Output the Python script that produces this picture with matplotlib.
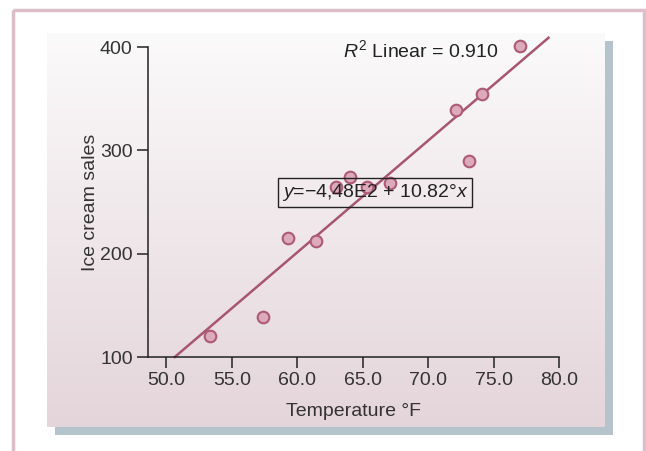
import numpy as np
import matplotlib
matplotlib.use("Agg")
import matplotlib.pyplot as plt
from matplotlib.patches import Rectangle
from matplotlib.colors import LinearSegmentedColormap

plt.rcParams['font.family'] = ['Liberation Sans', 'DejaVu Sans']
plt.rcParams['mathtext.fontset'] = 'custom'
plt.rcParams['mathtext.rm'] = 'Liberation Sans'
plt.rcParams['mathtext.it'] = 'Liberation Sans:italic'

# Data
temperature = [53.3, 57.4, 59.3, 61.4, 63.0, 64.0, 65.3, 67.1, 72.1, 73.1, 74.1, 77.0]
sales = [120, 139, 215, 212, 265, 274, 265, 268, 339, 290, 355, 401]
intercept = -448.0
slope = 10.82
x_ticks = [50, 55, 60, 65, 70, 75, 80]
y_ticks = [100, 200, 300, 400]

W, H = 646, 451
fig = plt.figure(figsize=(W / 100, H / 100), dpi=100)
fig.patch.set_facecolor('white')

def fx(px):
    return px / W

def fy(py):
    return 1 - py / H

# background decoration axes in pixel coordinates (y down)
deco = fig.add_axes([0, 0, 1, 1], zorder=-2)
deco.set_xlim(0, W)
deco.set_ylim(H, 0)
deco.set_axis_off()
deco.add_patch(Rectangle((13, 10), 631, 470, fill=False, edgecolor='#dcbdc9', lw=2.5))
deco.add_patch(Rectangle((55, 41), 558, 394, facecolor='#b5c4cc', edgecolor='none'))

# gradient panel
bg = fig.add_axes([fx(47), fy(427), fx(605) - fx(47), fy(33) - fy(427)], zorder=-1)
cmap = LinearSegmentedColormap.from_list('g', ['#fbfafa', '#e4d5da'])
bg.imshow(np.linspace(0, 1, 256).reshape(-1, 1), aspect='auto', cmap=cmap,
          extent=[0, 1, 0, 1], origin='upper')
bg.set_axis_off()

ax = fig.add_axes([fx(148), fy(357), fx(559) - fx(148), fy(47) - fy(357)], zorder=1)
ax.patch.set_alpha(0)
ax.set_xlim(48.6, 80)
ax.set_ylim(100, 400)
for s in ['top', 'right']:
    ax.spines[s].set_visible(False)
for s in ['left', 'bottom']:
    ax.spines[s].set_color('#222222')
    ax.spines[s].set_linewidth(1.1)
ax.set_xticks(x_ticks)
ax.set_xticklabels([f"{v:.1f}" for v in x_ticks])
ax.set_yticks(y_ticks)
ax.set_yticklabels([str(v) for v in y_ticks])
ax.tick_params(direction='out', length=8, width=1.1, color='#222222',
               labelsize=14, labelcolor='#333333', pad=3)

line_color = '#a8566f'
xl = np.array([(100 - intercept) / slope, 79.2])
ax.plot(xl, intercept + slope * xl, color=line_color, lw=1.8, clip_on=False, zorder=2)
ax.scatter(temperature, sales, s=70, facecolor='#dcaabb', edgecolor='#ad5a75',
           linewidth=1.5, zorder=3, clip_on=False)

ax.text(69.4, 397, r"$\mathit{R}^2$ Linear = 0.910", ha='center', va='center',
        fontsize=14, color='#222222')
ax.text(65.95, 259.5, r"$\mathit{y}$=−4,48E2 + 10.82°$\mathit{x}$", ha='center', va='center',
        fontsize=14, color='#222222', zorder=4,
        bbox=dict(boxstyle='square,pad=0.2', facecolor='none', edgecolor='#222222', lw=1))

ax.set_xlabel("Temperature °F", fontsize=14, color='#333333', labelpad=10)
ax.set_ylabel("Ice cream sales", fontsize=14, color='#333333', labelpad=1)

fig.savefig('out.png', dpi=100)
